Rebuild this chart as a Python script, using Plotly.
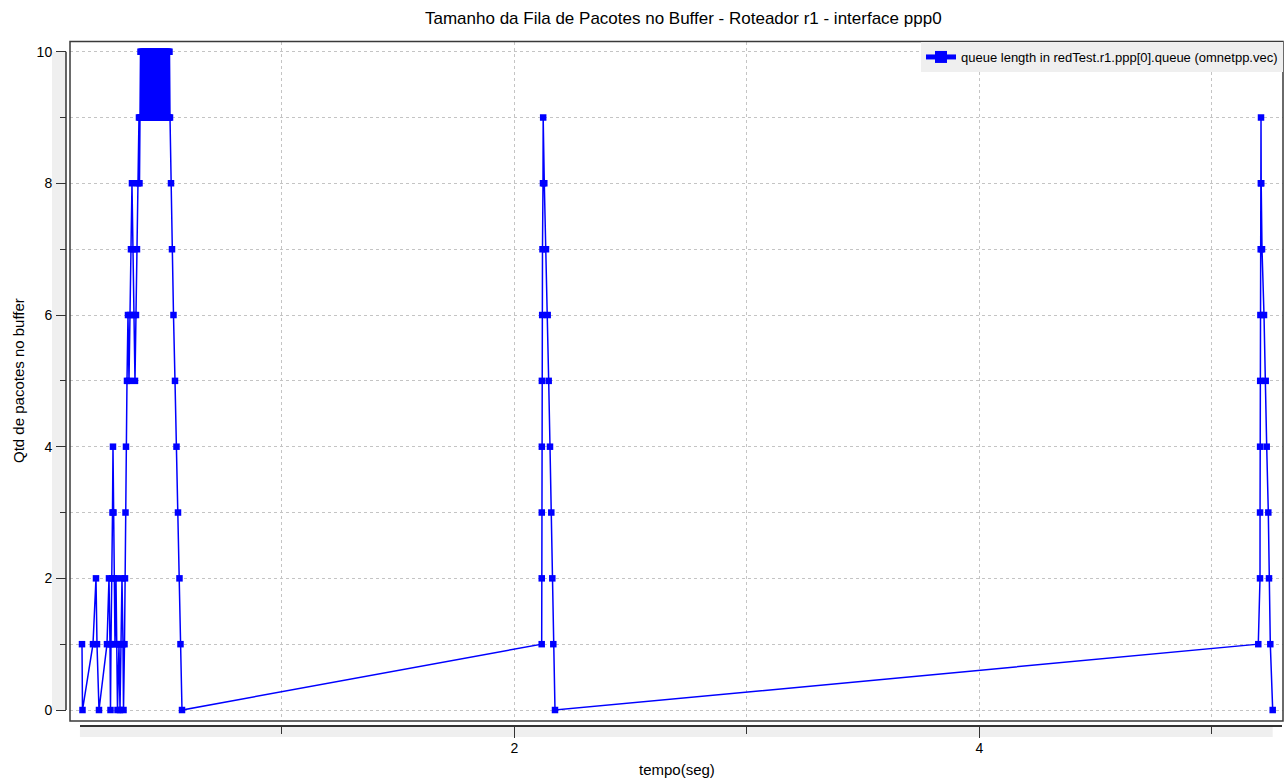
import plotly.graph_objects as go

# ---------------- data ----------------
tempo_s = [
    0.1398, 0.1419, 0.1871, 0.2000, 0.2043, 0.2129, 0.2473, 0.2559, 0.2602, 0.2624,
    0.2645, 0.2688, 0.2710, 0.2731, 0.2753, 0.2774, 0.2817, 0.2860, 0.2903, 0.2925,
    0.2989, 0.3032, 0.3075, 0.3118, 0.3161, 0.3183, 0.3226, 0.3247, 0.3269, 0.3290,
    0.3333, 0.3376, 0.3419, 0.3462, 0.3505, 0.3548, 0.3591, 0.3634, 0.3677, 0.3720,
    0.3763, 0.3806, 0.3849, 0.3871, 0.3892,
    0.3914, 0.3935, 0.3957, 0.3978, 0.4000, 0.4022, 0.4043, 0.4065, 0.4086, 0.4108,
    0.4129, 0.4151, 0.4172, 0.4194, 0.4215, 0.4237, 0.4258, 0.4280, 0.4301, 0.4323,
    0.4344, 0.4366, 0.4387, 0.4409, 0.4430, 0.4452, 0.4473, 0.4495, 0.4516, 0.4538,
    0.4559, 0.4581, 0.4602, 0.4624, 0.4645, 0.4667, 0.4688, 0.4710, 0.4731, 0.4753,
    0.4774, 0.4796, 0.4817, 0.4839, 0.4860, 0.4882, 0.4903, 0.4925, 0.4946, 0.4968,
    0.4989, 0.5011, 0.5032, 0.5054, 0.5075, 0.5097, 0.5118, 0.5140, 0.5161, 0.5183,
    0.5226, 0.5269, 0.5333, 0.5398, 0.5462, 0.5527, 0.5591, 0.5634, 0.5699,
    2.1170, 2.1172, 2.1174, 2.1176, 2.1178, 2.1191, 2.1204, 2.1226, 2.1234, 2.1282,
    2.1355, 2.1428, 2.1471, 2.1527, 2.1583, 2.1626, 2.1669, 2.1742,
    5.1991, 5.2065, 5.2067, 5.2069, 5.2073, 5.2082, 5.2095, 5.2103, 5.2108, 5.2116,
    5.2151, 5.2237, 5.2310, 5.2353, 5.2422, 5.2452, 5.2508, 5.2611,
]
fila_pacotes = [
    1, 0, 1, 2, 1, 0, 1, 2, 1, 0,
    1, 2, 3, 4, 3, 2, 1, 2, 1, 0,
    1, 0, 1, 2, 1, 0, 1, 2, 3, 4,
    5, 6, 5, 6, 7, 8, 7, 6, 5, 6,
    7, 8, 9, 8, 9,
    10, 9, 10, 9, 10, 9, 10, 9, 10, 9,
    10, 9, 10, 9, 10, 9, 10, 9, 10, 9,
    10, 9, 10, 9, 10, 9, 10, 9, 10, 9,
    10, 9, 10, 9, 10, 9, 10, 9, 10, 9,
    10, 9, 10, 9, 10, 9, 10, 9, 10, 9,
    10, 9, 10, 9, 10, 9, 10, 9, 10, 9,
    8, 7, 6, 5, 4, 3, 2, 1, 0,
    1, 2, 3, 4, 5, 6, 7, 8, 9, 8,
    7, 6, 5, 4, 3, 2, 1, 0,
    1, 2, 3, 4, 5, 6, 7, 8, 9, 8,
    7, 6, 5, 4, 3, 2, 1, 0,
]

y_tick_values = [0, 2, 4, 6, 8, 10]
y_tick_labels = ["0", "2", "4", "6", "8", "10"]
x_tick_values = [2, 4]
x_tick_labels = ["2", "4"]

series_name = "queue length in redTest.r1.ppp[0].queue (omnetpp.vec)"
title_text = "Tamanho da Fila de Pacotes no Buffer - Roteador r1 - interface ppp0"
x_title = "tempo(seg)"
y_title = "Qtd de pacotes no buffer"

# ---------------- geometry / style ----------------
W, H = 1288, 778
FONT = "Liberation Sans, Arial, Helvetica, sans-serif"
BLUE = "#0000ff"
GRID = "#c4c4c4"
AXC = "#333333"

plot_l, plot_r, plot_t, plot_b = 70, 1283, 41.5, 721
x_range = [0.0882, 5.3054]
y_range = [-0.167, 10.155]

def px_x(p):
    return p / W

def px_y(p):
    return (H - p) / H

fig = go.Figure()
fig.add_trace(go.Scatter(
    x=tempo_s, y=fila_pacotes, mode="lines+markers", name=series_name,
    line=dict(color=BLUE, width=1.5),
    marker=dict(symbol="square", size=6.5, color=BLUE, line=dict(width=0)),
    showlegend=True,
))

grid_common = dict(showgrid=True, gridcolor=GRID, griddash="dot", gridwidth=1)

fig.update_layout(
    width=W, height=H, autosize=False,
    margin=dict(l=0, r=0, t=0, b=0),
    paper_bgcolor="white", plot_bgcolor="white",
    font=dict(family=FONT, color="black", size=14),
    showlegend=True,
    legend=dict(
        x=px_x(plot_r), xanchor="right", y=px_y(plot_t + 0.5), yanchor="top",
        bgcolor="#efefef", borderwidth=0, font=dict(size=13, family=FONT),
        itemsizing="constant",
    ),
    xaxis=dict(
        domain=[px_x(plot_l), px_x(plot_r)], range=x_range, anchor="free",
        position=px_y(726), automargin=False, showline=False, zeroline=False,
        tickmode="array", tickvals=x_tick_values, ticktext=x_tick_labels,
        ticks="outside", ticklen=11, tickwidth=1, tickcolor=AXC,
        tickfont=dict(size=14, family=FONT), ticklabelstandoff=-2,
        minor=dict(dtick=1, tick0=0, ticks="outside", ticklen=7, tickcolor=AXC,
                   **grid_common),
        **grid_common,
    ),
    yaxis=dict(
        domain=[px_y(plot_b), px_y(plot_t)], range=y_range, anchor="free",
        position=px_x(66), automargin=False, showline=False, zeroline=False,
        tickmode="array", tickvals=y_tick_values, ticktext=y_tick_labels,
        ticks="outside", ticklen=10, tickwidth=1, tickcolor=AXC,
        tickfont=dict(size=14, family=FONT), ticklabelstandoff=1,
        minor=dict(dtick=1, tick0=0, ticks="outside", ticklen=6, tickcolor=AXC,
                   **grid_common),
        **grid_common,
    ),
)

x_lo = min(tempo_s) - 0.009
x_hi = max(tempo_s)
y_lo = min(y_tick_values)
y_hi = max(y_tick_values)

shapes = [
    # y-axis grey strip and axis line
    dict(type="rect", xref="paper", yref="y", x0=px_x(52), x1=px_x(66), y0=y_lo, y1=y_hi,
         fillcolor="#efefef", line=dict(width=0), layer="below"),
    dict(type="line", xref="paper", yref="y", x0=px_x(66), x1=px_x(66), y0=y_lo, y1=y_hi,
         line=dict(color=AXC, width=1.5), layer="above"),
    # x-axis grey strip and axis line
    dict(type="rect", xref="x", yref="paper", x0=x_lo, x1=x_hi, y0=px_y(737), y1=px_y(726),
         fillcolor="#efefef", line=dict(width=0), layer="below"),
    dict(type="line", xref="paper", yref="paper", x0=px_x(80), x1=px_x(1282),
         y0=px_y(726), y1=px_y(726), line=dict(color=AXC, width=2), layer="above"),
    # plot frame
    dict(type="rect", xref="x domain", yref="y domain", x0=0, x1=1, y0=0, y1=1,
         line=dict(color="#3a3a3a", width=1.5), layer="above"),
]
fig.update_layout(shapes=shapes)

fig.add_annotation(text=title_text, xref="paper", yref="paper", x=px_x(683.5), y=px_y(18),
                   xanchor="center", yanchor="middle", showarrow=False,
                   font=dict(size=17, family=FONT, color="black"))
fig.add_annotation(text=x_title, xref="paper", yref="paper", x=px_x(677), y=px_y(769),
                   xanchor="center", yanchor="middle", showarrow=False,
                   font=dict(size=15, family=FONT, color="black"))
fig.add_annotation(text=y_title, xref="paper", yref="paper", x=px_x(18), y=px_y(381),
                   xanchor="center", yanchor="middle", showarrow=False, textangle=-90,
                   font=dict(size=15, family=FONT, color="black"))

fig.write_html("out.html")
